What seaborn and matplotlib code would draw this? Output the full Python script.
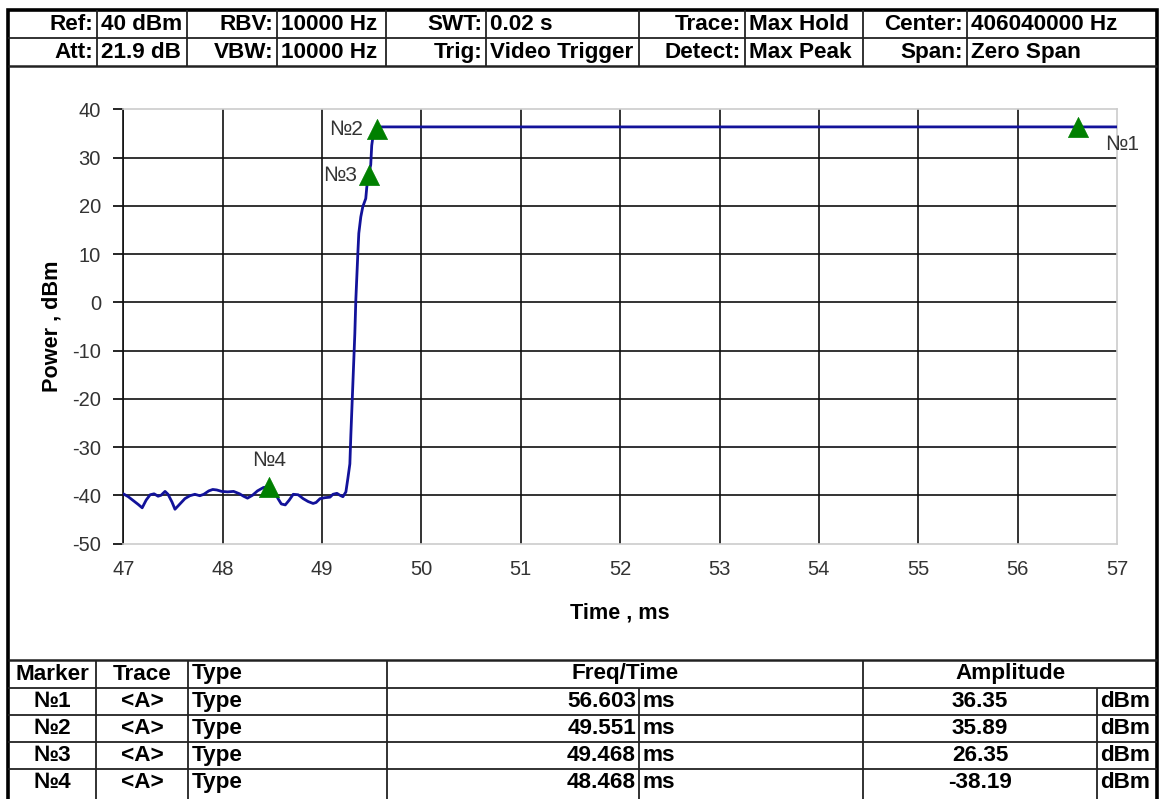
import numpy as np
import pandas as pd
import matplotlib
matplotlib.use("Agg")
import matplotlib.pyplot as plt
from matplotlib.lines import Line2D
from matplotlib.patches import Rectangle
import seaborn as sns

# ---------------- data ----------------
trace_time = [47.00, 47.05, 47.10, 47.15, 47.19, 47.23, 47.27, 47.31, 47.35, 47.38,
              47.42, 47.45, 47.49, 47.52, 47.57, 47.62, 47.67, 47.72, 47.77, 47.81,
              47.86, 47.90, 47.94, 47.99, 48.05, 48.11, 48.17, 48.21, 48.25, 48.30,
              48.35, 48.41, 48.468, 48.52, 48.56, 48.59, 48.63, 48.67, 48.71, 48.76,
              48.81, 48.86, 48.91, 48.94, 48.98, 49.03, 49.08, 49.11, 49.15, 49.18,
              49.21, 49.24, 49.26, 49.28, 49.29, 49.31, 49.33, 49.34, 49.36, 49.37,
              49.39, 49.41, 49.44, 49.45, 49.468, 49.49, 49.50, 49.52, 49.551, 49.57,
              56.603, 57.00]
trace_power = [-39.7, -40.3, -41.1, -41.9, -42.6, -41.0, -39.9, -39.7, -40.2, -40.0,
               -39.2, -39.8, -41.4, -42.9, -41.8, -40.7, -40.1, -39.8, -40.1, -39.8,
               -39.1, -38.8, -38.9, -39.2, -39.3, -39.2, -39.7, -40.2, -40.6, -40.0,
               -39.1, -38.4, -38.19, -39.3, -40.8, -41.8, -42.0, -41.0, -39.8, -39.9,
               -40.7, -41.3, -41.7, -41.5, -40.7, -40.5, -40.4, -39.8, -39.6, -40.0,
               -40.3, -39.3, -36.5, -33.5, -27.5, -17.0, -6.5, 0.5, 10.0, 14.3,
               17.7, 19.8, 21.5, 23.8, 26.35, 28.5, 32.5, 35.5, 35.89, 36.35,
               36.35, 36.35]

marker_names = ["№1", "№2", "№3", "№4"]
marker_trace = ["<A>", "<A>", "<A>", "<A>"]
marker_type = ["Type", "Type", "Type", "Type"]
marker_time = [56.603, 49.551, 49.468, 48.468]
marker_amp = [36.35, 35.89, 26.35, -38.19]
time_unit = "ms"
amp_unit = "dBm"

header_row1 = ["Ref:", "40 dBm", "RBV:", "10000 Hz", "SWT:", "0.02 s",
               "Trace:", "Max Hold", "Center:", "406040000 Hz"]
header_row2 = ["Att:", "21.9 dB", "VBW:", "10000 Hz", "Trig:", "Video Trigger",
               "Detect:", "Max Peak", "Span:", "Zero Span"]
table_head = ["Marker", "Trace", "Type", "Freq/Time", "Amplitude"]

x_ticks = list(range(47, 58))
y_ticks = list(range(-50, 41, 10))
x_label = "Time , ms"
y_label = "Power , dBm"

# ---------------- style ----------------
sns.set_theme(style="white")
plt.rcParams["font.family"] = ["Liberation Sans", "DejaVu Sans"]
plt.rcParams["axes.unicode_minus"] = False

W_PX, H_PX = 1161, 799
fig = plt.figure(figsize=(W_PX / 100, H_PX / 100), dpi=100)
TBL_FS = 16.2


def fx(x):
    return x / W_PX


def fy(y):
    return 1 - y / H_PX


def hline(x0, x1, y, lw=1.3, color="#222222"):
    fig.add_artist(Line2D([fx(x0), fx(x1)], [fy(y), fy(y)], transform=fig.transFigure,
                          color=color, lw=lw, solid_capstyle="butt"))


def vline(x, y0, y1, lw=1.3, color="#222222"):
    fig.add_artist(Line2D([fx(x), fx(x)], [fy(y0), fy(y1)], transform=fig.transFigure,
                          color=color, lw=lw, solid_capstyle="butt"))


def ftext(x, y, s, ha, size=TBL_FS, weight="bold", color="black"):
    fig.text(fx(x), fy(y), s, ha=ha, va="center", fontsize=size,
             fontweight=weight, color=color)


# ---------------- axes ----------------
ax_l, ax_r, ax_t, ax_b = 123.3, 1117.0, 109.3, 543.5
ax = fig.add_axes([fx(ax_l), fy(ax_b), fx(ax_r) - fx(ax_l), fy(ax_t) - fy(ax_b)])

df = pd.DataFrame({"t": trace_time, "p": trace_power})
sns.lineplot(data=df, x="t", y="p", ax=ax, color="#12129a", lw=2.0, zorder=3)

mk = pd.DataFrame({"t": marker_time, "a": marker_amp, "n": marker_names})
sns.scatterplot(data=mk, x="t", y="a", ax=ax, marker="^", s=210, color="#008000",
                edgecolor="#008000", linewidth=0.5, zorder=4)

label_offsets = {"№1": (20, -13, "left"), "№2": (-10, 0, "right"),
                 "№3": (-8, 0, "right"), "№4": (0, 19, "center")}
for n, t, a in zip(marker_names, marker_time, marker_amp):
    dx, dy, ha = label_offsets[n]
    ax.annotate(n, (t, a), xytext=(dx, dy), textcoords="offset points",
                ha=ha, va="center", fontsize=15, color="#333333")

ax.set_xlim(47, 57)
ax.set_ylim(-50, 40)
ax.set_xticks(x_ticks)
ax.set_yticks(y_ticks)
ax.set_xlabel(x_label, fontsize=15.6, fontweight="bold", labelpad=17, color="black")
ax.set_ylabel(y_label, fontsize=15.6, fontweight="bold", labelpad=7, color="black")
ax.tick_params(axis="x", length=0, pad=12, labelsize=14.5, labelcolor="#333333")
ax.tick_params(axis="y", length=7, width=1.2, color="black", pad=9,
               labelsize=14.5, labelcolor="#333333", left=True)
ax.grid(True, color="#111111", lw=1.2)
xt = ax.xaxis.get_major_ticks()
xt[-1].gridline.set_visible(False)
yt = ax.yaxis.get_major_ticks()
yt[0].gridline.set_visible(False)
yt[-1].gridline.set_visible(False)
for side in ["top", "right", "bottom"]:
    ax.spines[side].set_color("#cccccc")
    ax.spines[side].set_linewidth(1.2)
ax.spines["left"].set_color("#111111")
ax.spines["left"].set_linewidth(1.2)

# ---------------- outer frame ----------------
fig.add_artist(Rectangle((fx(8), fy(812)), fx(1157) - fx(8), fy(10) - fy(812),
                         transform=fig.transFigure, fill=False, lw=2.6,
                         edgecolor="black"))

# ---------------- top table ----------------
top_cols = [8, 97, 187, 277, 386, 486, 639, 745, 863, 967, 1157]
hline(8, 1157, 38)
hline(8, 1157, 66, lw=1.8)
for x in top_cols[1:-1]:
    vline(x, 10, 66)
for row, yc in ((header_row1, 24.5), (header_row2, 52.5)):
    for i, s in enumerate(row):
        if i % 2 == 0:
            ftext(top_cols[i + 1] - 4, yc, s, "right")
        else:
            ftext(top_cols[i] + 4, yc, s, "left")

# ---------------- bottom table ----------------
bc = [8, 96, 188, 387, 639, 863, 1097, 1157]
br = [660, 688, 715, 742, 769, 796]
hline(8, 1157, br[0], lw=1.8)
for y in br[1:-1]:
    hline(8, 1157, y)
for x in [96, 188, 387, 863]:
    vline(x, br[0], 812)
for x in [639, 1097]:
    vline(x, br[1], 812)
hc = (br[0] + br[1]) / 2
ftext((bc[0] + bc[1]) / 2, hc, table_head[0], "center")
ftext((bc[1] + bc[2]) / 2, hc, table_head[1], "center")
ftext(bc[2] + 4, hc, table_head[2], "left")
ftext((bc[3] + bc[5]) / 2, hc, table_head[3], "center")
ftext((bc[5] + bc[7]) / 2, hc, table_head[4], "center")
for k in range(len(marker_names)):
    yc = (br[k + 1] + br[k + 2]) / 2
    ftext((bc[0] + bc[1]) / 2, yc, marker_names[k], "center")
    ftext((bc[1] + bc[2]) / 2, yc, marker_trace[k], "center")
    ftext(bc[2] + 4, yc, marker_type[k], "left")
    ftext(bc[4] - 3, yc, f"{marker_time[k]:.3f}", "right")
    ftext(bc[4] + 4, yc, time_unit, "left")
    ftext((bc[5] + bc[6]) / 2, yc, f"{marker_amp[k]:.2f}", "center")
    ftext(bc[6] + 3, yc, amp_unit, "left")

fig.savefig("out.png", dpi=100)
